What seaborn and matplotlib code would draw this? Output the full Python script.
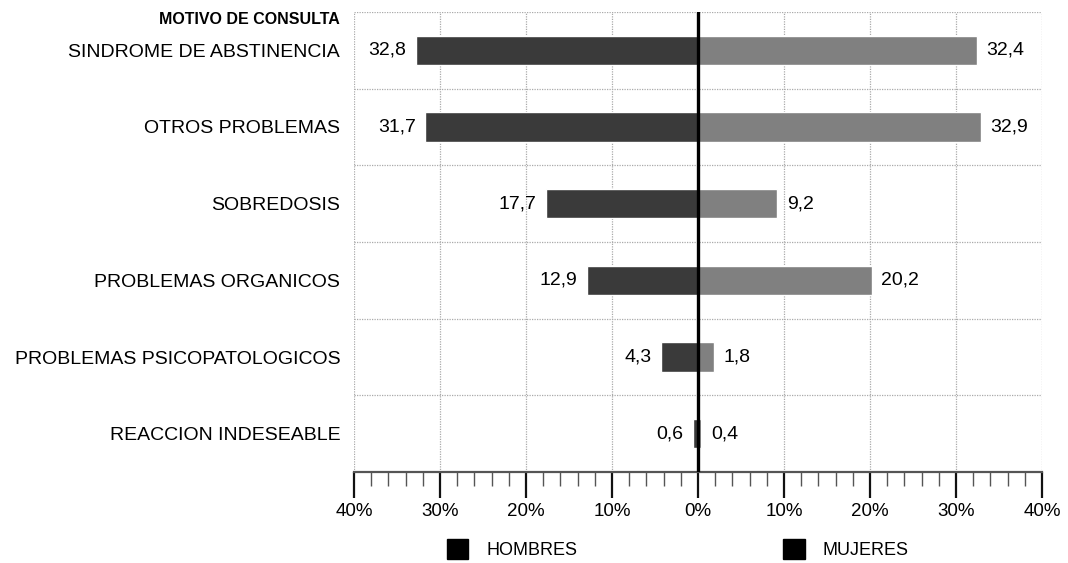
import seaborn as sns
import pandas as pd
import matplotlib.pyplot as plt
from matplotlib.patches import Patch
from matplotlib.ticker import MultipleLocator, FuncFormatter

motivos = ['SINDROME DE ABSTINENCIA', 'OTROS PROBLEMAS', 'SOBREDOSIS',
           'PROBLEMAS ORGANICOS', 'PROBLEMAS PSICOPATOLOGICOS', 'REACCION INDESEABLE']
hombres = [32.8, 31.7, 17.7, 12.9, 4.3, 0.6]
mujeres = [32.4, 32.9, 9.2, 20.2, 1.8, 0.4]

sns.set_style('white')
plt.rcParams['font.family'] = ['Liberation Sans', 'DejaVu Sans']
plt.rcParams['text.color'] = 'black'
plt.rcParams['xtick.labelcolor'] = 'black'
plt.rcParams['ytick.labelcolor'] = 'black'

df = pd.DataFrame({
    'motivo': motivos * 2,
    'valor': [-v for v in hombres] + mujeres,
    'sexo': ['HOMBRES'] * len(motivos) + ['MUJERES'] * len(motivos),
})

fig = plt.figure(figsize=(10.68, 5.63), dpi=100)
ax = fig.add_axes([0.3315, 0.1616, 0.6442, 0.8171])
sns.barplot(data=df, y='motivo', x='valor', hue='sexo', dodge=False, orient='h',
            palette={'HOMBRES': '#3a3a3a', 'MUJERES': '#808080'},
            width=0.38, saturation=1, legend=False, ax=ax)

ax.set_xlim(-40, 40)
ax.set_ylim(5.5, -0.5)
ax.xaxis.set_major_locator(MultipleLocator(10))
ax.xaxis.set_minor_locator(MultipleLocator(2))
ax.xaxis.set_major_formatter(FuncFormatter(lambda v, p: f'{abs(v):.0f}%'))
ax.tick_params(axis='x', which='both', bottom=True, direction='out')
ax.tick_params(axis='x', which='major', length=19, width=1.6, color='#111',
               labelsize=13.5, pad=3)
ax.tick_params(axis='x', which='minor', length=10, width=1, color='#555')
ax.tick_params(axis='y', length=0, labelsize=14, pad=10)
ax.set_xlabel('')
ax.set_ylabel('')

# grid
for x in range(-40, 41, 10):
    ax.axvline(x, color='#aaaaaa', ls=(0, (1, 1)), lw=0.9, zorder=0)
for y in [0.5, 1.5, 2.5, 3.5, 4.5, -0.5]:
    ax.axhline(y, color='#aaaaaa', ls=(0, (1, 1)), lw=0.9, zorder=0)
ax.axvline(0, color='black', lw=2.4, zorder=3)

for s in ['top', 'right', 'left']:
    ax.spines[s].set_visible(False)
ax.spines['bottom'].set_color('#555')
ax.spines['bottom'].set_linewidth(1.6)

# value labels
for i, (h, m) in enumerate(zip(hombres, mujeres)):
    ax.annotate(f'{h:.1f}'.replace('.', ','), (-h, i), xytext=(-7, 0),
                textcoords='offset points', ha='right', va='center', fontsize=14)
    ax.annotate(f'{m:.1f}'.replace('.', ','), (m, i), xytext=(7, 0),
                textcoords='offset points', ha='left', va='center', fontsize=14)

fig.text(0.3184, 0.9645, 'MOTIVO DE CONSULTA', ha='right', va='center',
         fontsize=11.5, fontweight='bold')

handles = [Patch(facecolor='black', edgecolor='black'), Patch(facecolor='black', edgecolor='black')]
fig.legend(handles, ['HOMBRES', 'MUJERES'], loc='center left', bbox_to_anchor=(0.403, 0.025),
           ncol=2, frameon=False, fontsize=13, handlelength=1.2, handleheight=1.3,
           handletextpad=1.0, columnspacing=11.4)

fig.savefig('out.png', dpi=100)
